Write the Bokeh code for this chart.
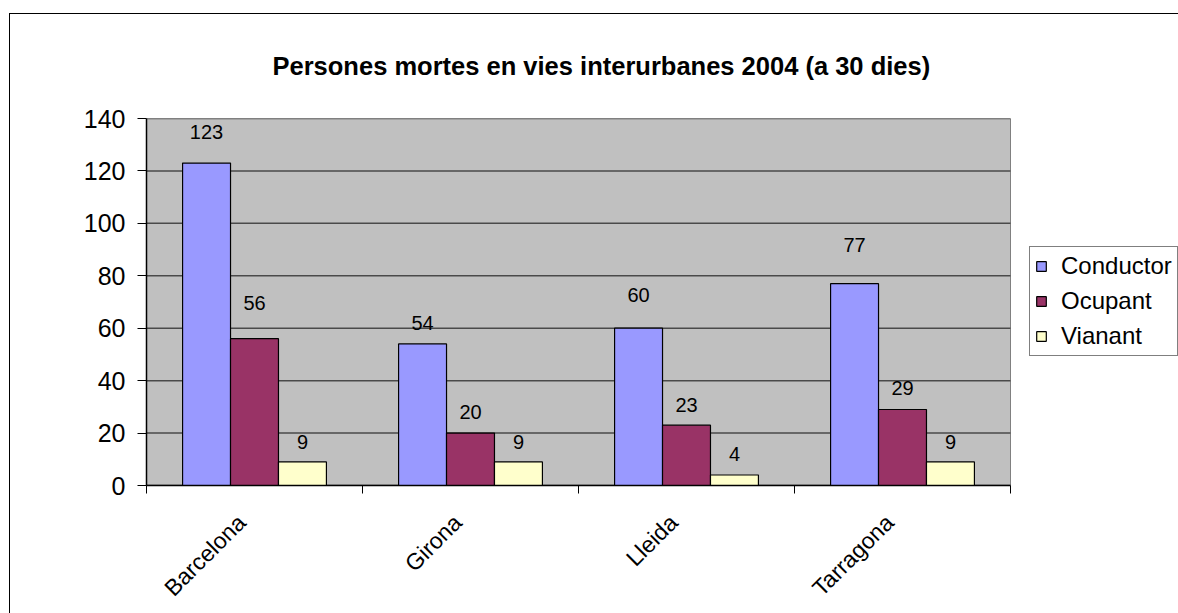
from math import pi
from bokeh.plotting import figure
from bokeh.models import (FixedTicker, Legend, LegendItem, ColumnDataSource,
                          LabelSet, Range1d, InlineStyleSheet, Title)
from bokeh.core.properties import value
from bokeh.embed import file_html
from bokeh.resources import INLINE
from bokeh.transform import dodge

# ---- data ----
regions = ["Barcelona", "Girona", "Lleida", "Tarragona"]
conductor = [123, 54, 60, 77]
ocupant = [56, 20, 23, 29]
vianant = [9, 9, 4, 9]
series_names = ["Conductor", "Ocupant", "Vianant"]
series_colors = ["#9999FF", "#993366", "#FFFFCC"]
y_ticks = [0, 20, 40, 60, 80, 100, 120, 140]
title_text = "Persones mortes en vies interurbanes 2004 (a 30 dies)"
x_title = "Servei territorial"

# label lift above each bar top, in pixels (styling, as placed in the original)
label_lift = {"Conductor": [31, 21, 33, 39],
              "Ocupant": [36, 21, 20, 21],
              "Vianant": [20, 20, 21, 20]}

FONT = "Liberation Sans"
n_cat = len(regions)
y_max = y_ticks[-1]
centers = [i + 0.5 for i in range(n_cat)]
label_pos = [c - 0.06 for c in centers]
bounds = [float(i) for i in range(n_cat + 1)]

# layout: plot area 864 px wide, the frame runs on to the right edge to host the legend
PLOT_W, FRAME_W = 864, 1178 - 146

data = dict(xc=centers, Conductor=conductor, Ocupant=ocupant, Vianant=vianant)
for n, vals in zip(series_names, [conductor, ocupant, vianant]):
    data["txt_" + n] = [str(v) for v in vals]
    data["lift_" + n] = label_lift[n]
src = ColumnDataSource(data)

p = figure(width=1178, height=613,
           x_range=Range1d(0, n_cat * FRAME_W / PLOT_W), y_range=Range1d(0, y_max),
           output_backend="svg", toolbar_location=None,
           min_border_left=146, min_border_right=0, min_border_top=118, min_border_bottom=126)
p.background_fill_color = "white"
p.border_fill_color = "white"
p.outline_line_color = None

# plot area (grey) and its grid lines
p.quad(left=[0], right=[n_cat], bottom=[0], top=[y_max], fill_color="#C0C0C0",
       line_color="#808080", line_width=1)
p.segment(x0=[0] * len(y_ticks), x1=[n_cat] * len(y_ticks), y0=y_ticks, y1=y_ticks,
          line_color="#4a4a4a", line_width=1.5)

bw = 0.222
offsets = [-bw, 0.0, bw]
renderers = []
for name, col, off in zip(series_names, series_colors, offsets):
    r = p.vbar(x=dodge("xc", off), top=name, width=bw, source=src, fill_color=col,
               line_color="black", line_width=1.2)
    renderers.append(r)
    ls = LabelSet(x=dodge("xc", off), y=name, text="txt_" + name, source=src,
                  y_offset="lift_" + name,
                  text_align="center", text_baseline="middle",
                  text_font=value(FONT), text_font_size="20px", text_color="black")
    p.add_layout(ls)

p.xgrid.visible = False
p.ygrid.visible = False

# y axis
p.yaxis.ticker = FixedTicker(ticks=y_ticks)
p.yaxis.axis_line_color = "black"
p.yaxis.axis_line_width = 1.5
p.yaxis.major_tick_out = 9
p.yaxis.major_tick_in = 0
p.yaxis.major_tick_line_color = "black"
p.yaxis.minor_tick_line_color = None
p.yaxis.major_label_text_font = FONT
p.yaxis.major_label_text_font_size = "25px"
p.yaxis.major_label_text_color = "black"
p.yaxis.major_label_standoff = 12

# x axis
p.xaxis.bounds = (0, n_cat)
p.xaxis.ticker = FixedTicker(ticks=label_pos, minor_ticks=bounds)
p.xaxis.major_label_overrides = {c: n for c, n in zip(label_pos, regions)}
p.xaxis.major_label_orientation = pi / 4
p.xaxis.axis_line_color = "black"
p.xaxis.axis_line_width = 1.5
p.xaxis.major_tick_line_color = None
p.xaxis.major_tick_out = 8
p.xaxis.minor_tick_out = 8
p.xaxis.minor_tick_in = 0
p.xaxis.minor_tick_line_color = "black"
p.xaxis.major_label_text_font = FONT
p.xaxis.major_label_text_font_size = "23px"
p.xaxis.major_label_text_color = "black"
p.xaxis.major_label_standoff = 25

# x axis title (placed under the plot area, left part of the frame)
p.add_layout(Title(text=x_title, align="left", offset=344, standoff=-60,
                   text_font=FONT, text_font_size="25px", text_font_style="bold",
                   text_color="black"), "below")

# chart title
p.title.text = title_text
p.title.align = "left"
p.title.offset = 126
p.title.standoff = 78
p.title.text_font = FONT
p.title.text_font_size = "25.5px"
p.title.text_font_style = "bold"
p.title.text_color = "black"

legend = Legend(items=[LegendItem(label=n, renderers=[r]) for n, r in zip(series_names, renderers)],
                location=(883, 129), label_text_font=FONT, label_text_font_size="24px",
                label_text_color="black", glyph_width=12, glyph_height=12, label_height=26,
                label_standoff=14, spacing=7, padding=5, margin=0,
                border_line_color="black", border_line_width=1,
                background_fill_color="white", background_fill_alpha=1.0)
p.add_layout(legend, "center")

# outer chart-area border (only its top and left edges are inside the picture)
p.stylesheets = [InlineStyleSheet(css="""
:host { position: relative; overflow: hidden; }
:host::after { content: ''; position: absolute; left: 9px; top: 13px; right: 0; bottom: 0;
  border-left: 1px solid black; border-top: 1px solid black; pointer-events: none; z-index: 10; }
""")]

open("out.html", "w").write(file_html(p, INLINE))
